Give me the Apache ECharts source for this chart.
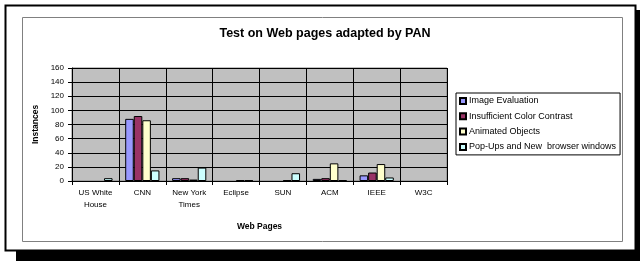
<!DOCTYPE html>
<html>
<head>
<meta charset="utf-8">
<script src="https://cdn.jsdelivr.net/npm/echarts@6/dist/echarts.min.js"></script>
<style>html,body{margin:0;padding:0;background:#fff;}#c{width:640px;height:261px;}</style>
</head>
<body>
<div id="c"></div>
<script>
const categories = ['US White\nHouse', 'CNN', 'New York\nTimes', 'Eclipse', 'SUN', 'ACM', 'IEEE', 'W3C'];
const seriesNames = ['Image Evaluation', 'Insufficient Color Contrast', 'Animated Objects', 'Pop-Ups and New  browser windows'];
const imageEvaluation = [0, 88, 4, 0, 0, 3, 8, 0];
const insufficientContrast = [0, 92, 4, 0, 0, 4, 12, 0];
const animatedObjects = [0, 86, 2, 1, 1, 25, 24, 0];
const popUps = [4, 15, 19, 1, 11, 1, 5, 0];
const yTicks = { min: 0, max: 160, interval: 20 };

const colors = ['#9999FF', '#993366', '#FFFFCC', '#CCFFFF'];
const dataSets = [imageEvaluation, insufficientContrast, animatedObjects, popUps];
const font = '"Liberation Sans", Arial, sans-serif';

const chart = echarts.init(document.getElementById('c'), null, { renderer: 'canvas' });
chart.setOption({
  animation: false,
  backgroundColor: '#ffffff',
  title: {
    text: 'Test on Web pages adapted by PAN',
    left: 320, top: 22, textAlign: 'center',
    textStyle: { fontFamily: font, fontSize: 12.5, fontWeight: 'bold', color: '#000' }
  },
  graphic: [
    { type: 'rect', shape: { x: 16, y: 251, width: 624, height: 10 }, style: { fill: '#000' }, z: 0 },
    { type: 'rect', shape: { x: 635, y: 10, width: 5, height: 251 }, style: { fill: '#000' }, z: 0 },
    { type: 'rect', shape: { x: 5.5, y: 5.5, width: 630, height: 245 }, style: { fill: 'none', stroke: '#000', lineWidth: 2 }, z: 1 },
    { type: 'rect', shape: { x: 22.5, y: 17.5, width: 600, height: 224 }, style: { fill: 'none', stroke: '#808080', lineWidth: 1 }, z: 1 }
  ],
  legend: {
    orient: 'vertical',
    left: 456, top: 93,
    padding: [3, 4, 3, 3],
    itemGap: 5.3,
    itemWidth: 6, itemHeight: 6,
    icon: 'rect',
    borderColor: '#000', borderWidth: 1,
    backgroundColor: '#fff',
    textStyle: { fontFamily: font, fontSize: 9, color: '#000', lineHeight: 10, padding: [0, 0, 0, -2] },
    data: seriesNames
  },
  grid: {
    left: 72, right: 193, top: 68, bottom: 80,
    show: true, backgroundColor: '#C0C0C0', borderColor: '#808080', borderWidth: 1
  },
  xAxis: {
    type: 'category',
    data: categories,
    name: 'Web Pages', nameLocation: 'middle', nameGap: 41,
    nameTextStyle: { fontFamily: font, fontSize: 8.5, fontWeight: 'bold', color: '#000' },
    axisLine: { lineStyle: { color: '#000', width: 1 } },
    axisTick: { show: true, length: 4, lineStyle: { color: '#000' } },
    splitLine: { show: true, lineStyle: { color: '#000', width: 1 } },
    axisLabel: { interval: 0, fontFamily: font, fontSize: 8, color: '#000', lineHeight: 12, margin: 6 }
  },
  yAxis: {
    type: 'value',
    min: yTicks.min, max: yTicks.max, interval: yTicks.interval,
    name: 'Instances', nameLocation: 'middle', nameGap: 29, nameRotate: 90,
    nameTextStyle: { fontFamily: font, fontSize: 8.5, fontWeight: 'bold', color: '#000' },
    axisLine: { show: true, lineStyle: { color: '#000', width: 1 } },
    axisTick: { show: true, length: 4, lineStyle: { color: '#000' } },
    splitLine: { show: true, lineStyle: { color: '#000', width: 1 } },
    axisLabel: { fontFamily: font, fontSize: 8, color: '#000', margin: 8 }
  },
  series: seriesNames.map((name, i) => ({
    name: name,
    type: 'bar',
    data: dataSets[i].map(v => ({ value: v, itemStyle: { borderWidth: v === 0 ? 0 : 1 } })),
    barGap: '0%',
    barCategoryGap: '27%',
    itemStyle: { color: colors[i], borderColor: '#000', borderWidth: 1 }
  }))
});
</script>
</body>
</html>
